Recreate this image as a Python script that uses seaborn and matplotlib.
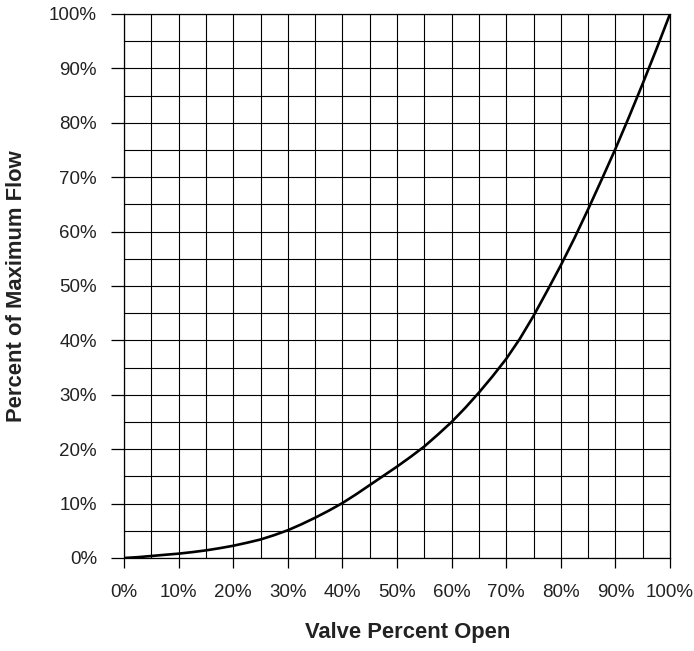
import matplotlib
matplotlib.use("Agg")
import matplotlib.pyplot as plt
import seaborn as sns
import pandas as pd
from matplotlib.ticker import MultipleLocator, FuncFormatter

valve_open = [0, 2.5, 5, 7.5, 10, 12.5, 15, 17.5, 20, 22.5, 25, 27.5, 30,
              32.5, 35, 37.5, 40, 42.5, 45, 47.5, 50, 52.5, 55, 57.5, 60,
              62.5, 65, 67.5, 70, 72.5, 75, 77.5, 80, 82.5, 85, 87.5, 90,
              92.5, 95, 97.5, 100]
flow = [0, 0.15, 0.37, 0.59, 0.8, 1.08, 1.4, 1.8, 2.25, 2.8, 3.4, 4.2, 5.1,
        6.2, 7.4, 8.7, 10.1, 11.7, 13.4, 15.1, 16.8, 18.6, 20.5, 22.7, 25.0,
        27.6, 30.4, 33.4, 36.6, 40.3, 44.5, 49.1, 53.8, 58.8, 64.1, 69.6, 75.2,
        81.1, 87.2, 93.5, 100.0]
tick_values = [0, 10, 20, 30, 40, 50, 60, 70, 80, 90, 100]
x_label = "Valve Percent Open"
y_label = "Percent of Maximum Flow"

df = pd.DataFrame({"open": valve_open, "flow": flow})

sns.set_theme(style="white")
plt.rcParams['font.family'] = ['Liberation Sans', 'DejaVu Sans']

fig = plt.figure(figsize=(6.94, 6.51), dpi=100)
ax = fig.add_axes([124/694, (651-558)/651, 546/694, 544/651])

sns.lineplot(data=df, x="open", y="flow", ax=ax, color="black",
             linewidth=1.9, zorder=5)

ax.set_xlim(0, 100)
ax.set_ylim(0, 100)
ax.set_xticks(tick_values)
ax.set_yticks(tick_values)
ax.xaxis.set_minor_locator(MultipleLocator(5))
ax.yaxis.set_minor_locator(MultipleLocator(5))
fmt = FuncFormatter(lambda v, p: f"{int(round(v))}%")
ax.xaxis.set_major_formatter(fmt)
ax.yaxis.set_major_formatter(fmt)

ax.grid(True, which="both", color="black", linewidth=0.8)
ax.set_axisbelow(True)
for s in ax.spines.values():
    s.set_color("black")
    s.set_linewidth(0.9)
    s.set_visible(True)

ax.tick_params(axis="y", which="major", direction="out", length=9.5, width=0.9,
               color="black", pad=10, labelsize=13.5, labelcolor="#222222", left=True)
ax.tick_params(axis="x", which="major", direction="out", length=7.5, width=0.9,
               color="black", pad=11, labelsize=13.5, labelcolor="#222222", bottom=True)
ax.tick_params(which="minor", length=0)

ax.set_xlabel(x_label, fontsize=15.8, fontweight="bold", color="#222222")
ax.set_ylabel(y_label, fontsize=15.8, fontweight="bold", color="#222222")
ax.xaxis.set_label_coords(0.52, -0.118)
ax.yaxis.set_label_coords(-0.177, 0.5)

fig.savefig("out.png", dpi=100, facecolor="white")
